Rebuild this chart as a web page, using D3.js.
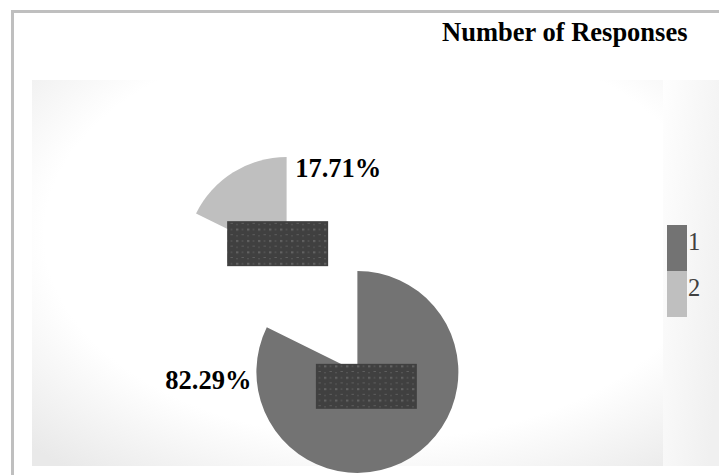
<!DOCTYPE html>
<html>
<head>
<meta charset="utf-8">
<script src="https://cdn.jsdelivr.net/npm/d3@7"></script>
<style>
  html, body { margin: 0; padding: 0; background: #ffffff; }
  svg { display: block; }
  text { font-family: "Liberation Serif", "Times New Roman", serif; }
</style>
</head>
<body>
<div id="chart"></div>
<script>
// Survey answers and their share of all responses (percent)
const categories = ["1", "2"];
const shares = [82.29, 17.71];
const sliceColors = ["#737373", "#bfbfbf"];
const chartTitle = "Number of Responses";

const W = 719, H = 475;
const svg = d3.select("#chart").append("svg")
  .attr("width", W).attr("height", H);

const defs = svg.append("defs");

// soft radial shading of the plot area: white centre, grey only near the corners
const bg = defs.append("radialGradient")
  .attr("id", "plotShade").attr("cx", 0.55).attr("cy", 0.4).attr("r", 0.78);
bg.append("stop").attr("offset", 0).attr("stop-color", "#ffffff");
bg.append("stop").attr("offset", 0.68).attr("stop-color", "#ffffff");
bg.append("stop").attr("offset", 1).attr("stop-color", "#e9e9e9");

const lg = defs.append("linearGradient")
  .attr("id", "legendShade").attr("x1", 0).attr("y1", 0).attr("x2", 1).attr("y2", 0.6);
lg.append("stop").attr("offset", 0).attr("stop-color", "#fefefe");
lg.append("stop").attr("offset", 1).attr("stop-color", "#f0f0f0");

// dotted fill used for the data-label boxes
const pat = defs.append("pattern")
  .attr("id", "dots").attr("patternUnits", "userSpaceOnUse")
  .attr("x", 0).attr("y", 0).attr("width", 11).attr("height", 11.4);
pat.append("rect").attr("width", 11).attr("height", 11.4).attr("fill", "#404040");
pat.append("rect").attr("x", 2).attr("y", 4.8).attr("width", 2.4).attr("height", 2).attr("fill", "#626262");
pat.append("rect").attr("x", 7.5).attr("y", 10.5).attr("width", 2.4).attr("height", 2).attr("fill", "#626262");
pat.append("rect").attr("x", 7.6).attr("y", 5).attr("width", 1.8).attr("height", 1.5).attr("fill", "#555555");
pat.append("rect").attr("x", 2.1).attr("y", -0.2).attr("width", 1.8).attr("height", 1.5).attr("fill", "#555555");

// chart frame
svg.append("rect")
  .attr("x", 12.5).attr("y", 11.5).attr("width", 760).attr("height", 520)
  .attr("fill", "#ffffff").attr("stroke", "#bfbfbf").attr("stroke-width", 3);

// plot area and legend backgrounds
const plot = { x: 32, y: 80, w: 631, h: 386 };
svg.append("rect")
  .attr("x", plot.x).attr("y", plot.y).attr("width", plot.w).attr("height", plot.h)
  .attr("fill", "url(#plotShade)");
svg.append("rect")
  .attr("x", plot.x + plot.w).attr("y", plot.y).attr("width", 60).attr("height", plot.h)
  .attr("fill", "url(#legendShade)");

// title
svg.append("text")
  .attr("x", 687.5).attr("y", 40.5)
  .attr("text-anchor", "end")
  .attr("font-size", 26.5).attr("font-weight", "bold").attr("fill", "#000")
  .text(chartTitle);

// exploded pie
const center = { x: 322, y: 315 };
const radius = 101;
const explode = 67;
const labelBoxRadius = 84;

const pie = d3.pie().sort(null).value(d => d.value).startAngle(0).endAngle(2 * Math.PI);
const data = pie(categories.map((c, i) => ({ cat: c, value: shares[i] })));

const arc = d3.arc().innerRadius(0).outerRadius(radius);
const boxArc = d3.arc().innerRadius(labelBoxRadius).outerRadius(labelBoxRadius);

const mid = d => (d.startAngle + d.endAngle) / 2;
const offset = (d, dist) => [Math.sin(mid(d)) * dist, -Math.cos(mid(d)) * dist];

const g = svg.append("g").attr("transform", `translate(${center.x},${center.y})`);

g.selectAll("path.slice").data(data).join("path")
  .attr("class", "slice")
  .attr("transform", d => { const [dx, dy] = offset(d, explode); return `translate(${dx},${dy})`; })
  .attr("d", arc)
  .attr("fill", (d, i) => sliceColors[i]);

// data label boxes
const boxW = 101, boxH = 45;
g.selectAll("rect.lbox").data(data).join("rect")
  .attr("class", "lbox")
  .attr("x", d => boxArc.centroid(d)[0] - boxW / 2)
  .attr("y", d => boxArc.centroid(d)[1] - boxH / 2)
  .attr("width", boxW).attr("height", boxH)
  .attr("fill", "url(#dots)");

// percentage labels beside each slice
const fmt = v => v.toFixed(2) + "%";
const labelSpec = [
  { angle: -Math.PI / 2, dx: -5, dy: 17, anchor: "end" },   // left edge of slice 1
  { angle: 0, dx: 8.5, dy: 19.5, anchor: "start" }          // top edge of slice 2
];
g.selectAll("text.pct").data(data).join("text")
  .attr("class", "pct")
  .attr("x", (d, i) => offset(d, explode)[0] + Math.sin(labelSpec[i].angle) * radius + labelSpec[i].dx)
  .attr("y", (d, i) => offset(d, explode)[1] - Math.cos(labelSpec[i].angle) * radius + labelSpec[i].dy)
  .attr("text-anchor", (d, i) => labelSpec[i].anchor)
  .attr("font-size", 26.5).attr("font-weight", "bold").attr("fill", "#000")
  .text(d => fmt(d.data.value));

// legend
const legend = svg.append("g").attr("transform", "translate(667,225)");
const sw = 20, sh = 46;
const lgItems = legend.selectAll("g").data(categories).join("g")
  .attr("transform", (d, i) => `translate(0,${i * sh})`);
lgItems.append("rect")
  .attr("width", sw).attr("height", sh)
  .attr("fill", (d, i) => sliceColors[i]);
lgItems.append("text")
  .attr("x", sw + 1).attr("y", 24.5)
  .attr("font-size", 24.5).attr("fill", "#404040")
  .text(d => d);
</script>
</body>
</html>
